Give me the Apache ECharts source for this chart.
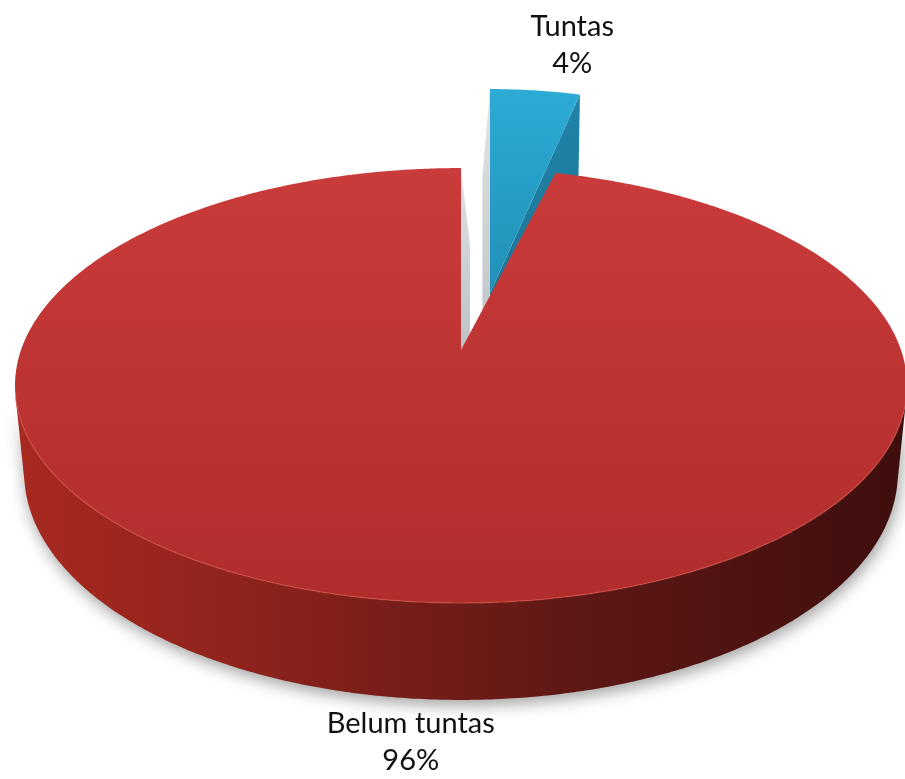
<!DOCTYPE html>
<html>
<head>
<meta charset="utf-8">
<script src="https://cdn.jsdelivr.net/npm/echarts@6/dist/echarts.min.js"></script>
<style>
  html, body { margin: 0; padding: 0; background: #ffffff; }
  #chart { width: 905px; height: 779px; }
</style>
</head>
<body>
<div id="chart"></div>
<script>
// Data
const categories = ['Tuntas', 'Belum tuntas'];
const values = [4, 96];
const percentLabels = ['4%', '96%'];

// Tilted-disc camera: centre on screen, radius in px, eye distance (radius units),
// tilt of the disc towards the viewer, and thickness of the disc (radius units).
const VIEW = {
  cx: 461, cy: 350, scale: 440, dist: 5.37,
  tilt: 28.75 * Math.PI / 180, thickness: 0.229
};

// Per-slice look: pulled-out offset/scale on screen, colours, cut-face skew, label placement.
const SLICE_STYLE = [
  {
    pull: { dx: 29, dy: -57, sx: 0.952, sy: 1.121 },
    top: ['#2cabd4', '#2290b8'],
    startFace: ['#e2e4e6', '#b9bdc1'],
    endFace: ['#1f84a8', '#1a6f8f'],
    wall: ['#2a8fb3', '#1b6f8e'],
    skew: { start: -8, end: 0 },
    label: { dx: 37, dy: -8, vAlign: 'bottom', at: 'top' }
  },
  {
    pull: null,
    top: ['#ca3b3b', '#b02d2b'],
    startFace: ['#8e2420', '#7a1e1b'],
    endFace: ['#e0e2e4', '#aeb2b6'],
    wall: null,
    skew: { start: 0, end: 9 },
    label: { dx: 14, dy: 8, vAlign: 'top', at: 'bottom' }
  }
];

const SIN_T = Math.sin(VIEW.tilt), COS_T = Math.cos(VIEW.tilt);
const CAMERA = [0, VIEW.dist * SIN_T, VIEW.dist * COS_T];

// Project a point of the disc (X right, Z towards the viewer, Y up) to the screen.
function proj(X, Z, Y) {
  const yv = Y * COS_T - Z * SIN_T;
  const dz = Z * COS_T + Y * SIN_T;
  const s = VIEW.dist / (VIEW.dist - dz);
  return [VIEW.cx + VIEW.scale * X * s, VIEW.cy - VIEW.scale * yv * s];
}

function wallGradient() {
  return new echarts.graphic.LinearGradient(0, 0, 1, 0, [
    { offset: 0, color: '#a8291f' },
    { offset: 0.25, color: '#8f231c' },
    { offset: 0.45, color: '#741d18' },
    { offset: 0.65, color: '#5c1714' },
    { offset: 0.85, color: '#4b1210' },
    { offset: 1, color: '#3d0e0d' }
  ]);
}

function vGrad(c) {
  return new echarts.graphic.LinearGradient(0, 0, 0, 1, [
    { offset: 0, color: c[0] }, { offset: 1, color: c[1] }
  ]);
}

function renderItem(params, api) {
  const i = params.dataIndex;
  const total = values.reduce((s, v) => s + v, 0);
  let before = 0;
  for (let k = 0; k < i; k++) before += values[k];
  const v = api.value(0);
  const a = before / total * 2 * Math.PI;
  const b = (before + v) / total * 2 * Math.PI;
  const m = (a + b) / 2;
  const st = SLICE_STYLE[i];
  const H = VIEW.thickness;
  const pt = (t, y) => proj(Math.sin(t), -Math.cos(t), y);
  const centre = proj(0, 0, 0);
  const shapes = [];
  const rims = [];

  // outer wall: keep only the stretches that face the eye
  const steps = Math.max(8, Math.ceil((b - a) / (Math.PI / 360)));
  const runs = [];
  let run = [];
  for (let k = 0; k <= steps; k++) {
    const t = a + (b - a) * k / steps;
    const nx = Math.sin(t), nz = -Math.cos(t);
    const vis = nx * (CAMERA[0] - nx) + nz * (CAMERA[2] - nz) > 0;
    if (vis) run.push(t);
    else { if (run.length > 1) runs.push(run); run = []; }
  }
  if (run.length > 1) runs.push(run);
  runs.forEach(r => {
    const pts = r.map(t => pt(t, 0)).concat(r.slice().reverse().map(t => pt(t, -H)));
    shapes.push({
      type: 'polygon',
      shape: { points: pts },
      style: {
        fill: st.wall && st.pull ? vGrad(st.wall) : wallGradient(),
        shadowBlur: 16, shadowColor: 'rgba(0,0,0,0.38)', shadowOffsetX: 2, shadowOffsetY: 5
      }
    });
    // soft bevel where the top meets the wall
    rims.push({
      type: 'polyline',
      shape: { points: r.map(t => pt(t, 0)) },
      style: { stroke: 'rgba(215,80,72,0.55)', lineWidth: 1.5, fill: null }
    });
  });

  // radial cut faces
  const faces = [
    { t: a, n: [-Math.cos(a), -Math.sin(a)], fill: st.startFace, skew: st.skew.start },
    { t: b, n: [Math.cos(b), Math.sin(b)], fill: st.endFace, skew: st.skew.end }
  ];
  faces.forEach(f => {
    const dot = f.n[0] * CAMERA[0] + f.n[1] * CAMERA[2];
    if (dot <= 0.01 && !f.skew) return;
    const bo = pt(f.t, -H), bc = proj(0, 0, -H);
    const pts = [centre, pt(f.t, 0), [bo[0] + f.skew, bo[1]], [bc[0] + f.skew, bc[1]]];
    shapes.push({
      type: 'polygon',
      shape: { points: pts },
      style: { fill: vGrad(f.fill) }
    });
  });

  // top face
  const topPts = [centre];
  for (let k = 0; k <= steps; k++) topPts.push(pt(a + (b - a) * k / steps, 0));
  shapes.push({
    type: 'polygon',
    shape: { points: topPts },
    style: { fill: vGrad(st.top) }
  });
  rims.forEach(r => shapes.push(r));

  // pulled-out slice: moved and rescaled on screen about the disc centre
  const slice = { type: 'group', children: shapes };
  let place = p => p;
  if (st.pull) {
    Object.assign(slice, {
      originX: centre[0], originY: centre[1],
      x: st.pull.dx, y: st.pull.dy,
      scaleX: st.pull.sx, scaleY: st.pull.sy
    });
    place = p => [centre[0] + st.pull.dx + (p[0] - centre[0]) * st.pull.sx,
                  centre[1] + st.pull.dy + (p[1] - centre[1]) * st.pull.sy];
  }

  // category and share label
  const anchor = place(st.label.at === 'top' ? pt(m, 0) : pt(m, -H));
  const label = {
    type: 'text',
    style: {
      text: categories[i] + '\n' + percentLabels[i],
      x: anchor[0] + st.label.dx,
      y: anchor[1] + st.label.dy,
      align: 'center',
      verticalAlign: st.label.vAlign,
      fontFamily: 'Lato',
      fontSize: 29,
      lineHeight: 37,
      fill: '#111111'
    }
  };

  return { type: 'group', children: [slice, label] };
}

const chart = echarts.init(document.getElementById('chart'), null, { renderer: 'canvas' });
chart.setOption({
  backgroundColor: '#ffffff',
  animation: false,
  series: [{
    type: 'custom',
    coordinateSystem: 'none',
    silent: true,
    renderItem: renderItem,
    data: values.map((v, i) => ({ name: categories[i], value: [v] }))
  }]
});
</script>
</body>
</html>
